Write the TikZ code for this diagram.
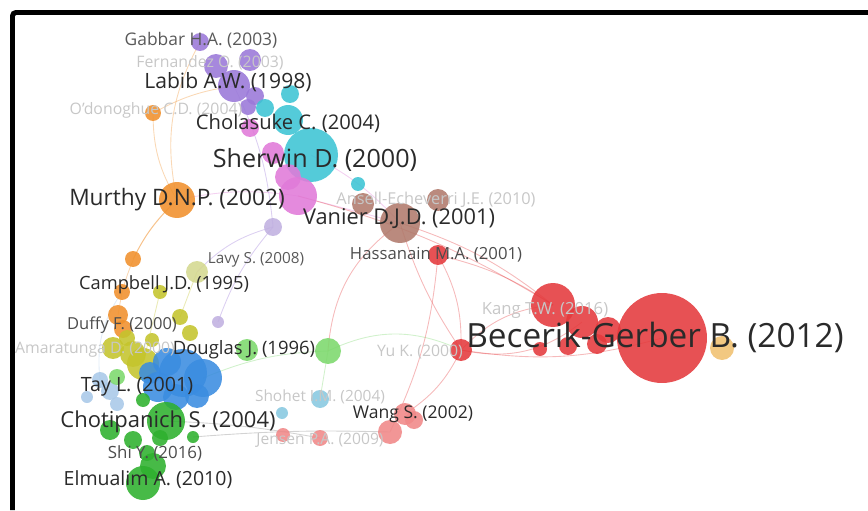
\documentclass[tikz,border=0pt]{standalone}
\usepackage{fontspec}
\setmainfont{Open Sans}
\usetikzlibrary{backgrounds}

\definecolor{purp}{HTML}{9A78D8}
\definecolor{lav}{HTML}{C0B0E0}
\definecolor{cyn}{HTML}{3CC4D4}
\definecolor{pnk}{HTML}{E07AD8}
\definecolor{org}{HTML}{F0902C}
\definecolor{brn}{HTML}{B07A6C}
\definecolor{rd}{HTML}{E4393C}
\definecolor{gld}{HTML}{F0C070}
\definecolor{lgrn}{HTML}{7CD86C}
\definecolor{olv}{HTML}{C4C42C}
\definecolor{lyel}{HTML}{D4D890}
\definecolor{blu}{HTML}{3A8CE0}
\definecolor{lblu}{HTML}{A8C8E8}
\definecolor{grn}{HTML}{2EB02E}
\definecolor{sky}{HTML}{88C8E0}
\definecolor{slm}{HTML}{F08888}
\definecolor{lbltxt}{HTML}{2A2A2A}

\begin{document}
\begin{tikzpicture}[x=0.02cm,y=-0.02cm,
  bub/.style={circle,inner sep=0pt,minimum size=#1*0.04cm,fill opacity=0.88},
  lbl/.style={inner sep=0pt,text=lbltxt,font=\fontsize{#1}{#1}\selectfont},
  faint/.style={text=black!22},
  edge/.style={line width=0.5pt,draw opacity=0.35}]
\useasboundingbox (0,0) rectangle (868,510);

% Frame
\draw[line width=2.84pt,rounded corners=2pt] (12.5,510) -- (12.5,12.5) -- (868,12.5);

% Purple cluster
\node[bub=9,fill=purp] (gabbar) at (200,42) {};
\node[bub=12,fill=purp] (fern) at (216,66) {};
\node[bub=11,fill=purp] (purpb) at (250,60) {};
\node[bub=16,fill=purp] (labib) at (234,86) {};
\node[bub=9,fill=purp] (purpc) at (255,96) {};
\node[bub=8,fill=purp] (purpd) at (248,107) {};
\node[bub=9,fill=lav] (zhu) at (273,227) {};
\node[bub=6,fill=lav] (lavb) at (218,322) {};

% Cyan cluster
\node[bub=9,fill=cyn] (cyna) at (290,94) {};
\node[bub=9,fill=cyn] (cynb) at (265,108) {};
\node[bub=15,fill=cyn] (cholas) at (288,120) {};
\node[bub=27,fill=cyn] (sherwin) at (311,155) {};
\node[bub=7,fill=cyn] (cync) at (358,184) {};

% Pink cluster
\node[bub=9,fill=pnk] (pnka) at (250,128) {};
\node[bub=11,fill=pnk] (pnkb) at (273,153) {};
\node[bub=13,fill=pnk] (pnkc) at (288,177) {};
\node[bub=19,fill=pnk] (pnkbig) at (298,196) {};

% Orange cluster
\node[bub=8,fill=org] (odon) at (153,113) {};
\node[bub=18,fill=org] (murthy) at (177,200) {};
\node[bub=8,fill=org] (orga) at (133,259) {};
\node[bub=8,fill=org] (campb) at (122,292) {};
\node[bub=10,fill=org] (duffy) at (118,315) {};
\node[bub=9,fill=org] (orgb) at (123,329) {};

% Brown cluster
\node[bub=11,fill=brn] (brna) at (363,204) {};
\node[bub=11,fill=brn] (arditi) at (438,200) {};
\node[bub=20,fill=brn] (vanier) at (400,223) {};

% Red cluster
\node[bub=10,fill=rd] (hassan) at (438,255) {};
\node[bub=22,fill=rd] (kang) at (553,305) {};
\node[bub=16,fill=rd] (rda) at (582,322) {};
\node[bub=13,fill=rd] (rde) at (608,330) {};
\node[bub=10,fill=rd] (rdb) at (597,344) {};
\node[bub=9,fill=rd] (rdc) at (568,346) {};
\node[bub=7,fill=rd] (rdd) at (540,349) {};
\node[bub=45,fill=rd] (becerik) at (662,338) {};
\node[bub=11,fill=rd] (yu) at (461,350) {};
\node[bub=12,fill=gld] (gold) at (722,348) {};

% Yellow-green cluster
\node[bub=11,fill=lyel] (lavy) at (197,272) {};
\node[bub=7,fill=olv] (olva) at (160,292) {};
\node[bub=8,fill=olv] (olvb) at (180,317) {};
\node[bub=8,fill=olv] (olvc) at (190,333) {};
\node[bub=7,fill=olv] (olvd) at (152,340) {};
\node[bub=8,fill=olv] (olvg) at (127,338) {};
\node[bub=11,fill=olv] (amar) at (113,348) {};
\node[bub=13,fill=olv] (olve) at (133,354) {};
\node[bub=16,fill=olv] (olvf) at (143,364) {};

% Blue cluster
\node[bub=14,fill=blu] (blua) at (167,362) {};
\node[bub=11,fill=blu] (bluf) at (150,373) {};
\node[bub=24,fill=blu] (blub) at (183,373) {};
\node[bub=19,fill=blu] (bluc) at (203,378) {};
\node[bub=15,fill=blu] (blud) at (158,387) {};
\node[bub=13,fill=blu] (blue) at (176,397) {};
\node[bub=12,fill=blu] (blug) at (197,396) {};
\node[bub=8,fill=lblu] (lblua) at (100,380) {};
\node[bub=9,fill=lblu] (tay) at (110,391) {};
\node[bub=7,fill=lblu] (lblub) at (117,404) {};
\node[bub=6,fill=lblu] (lbluc) at (87,397) {};

% Green cluster
\node[bub=11,fill=lgrn] (lgrna) at (247,350) {};
\node[bub=13,fill=lgrn] (douglas) at (328,351) {};
\node[bub=8,fill=lgrn] (lgrnb) at (117,377) {};
\node[bub=7,fill=grn] (grna) at (143,400) {};
\node[bub=19,fill=grn] (choti) at (166,421) {};
\node[bub=10,fill=grn] (grnb) at (110,430) {};
\node[bub=9,fill=grn] (grnc) at (133,440) {};
\node[bub=8,fill=grn] (grnd) at (160,438) {};
\node[bub=6,fill=grn] (grne) at (193,437) {};
\node[bub=8,fill=grn] (shi) at (147,453) {};
\node[bub=13,fill=grn] (grnf) at (153,466) {};
\node[bub=17,fill=grn] (elmu) at (143,483) {};

% Light blue and salmon
\node[bub=9,fill=sky] (shohet) at (320,399) {};
\node[bub=6,fill=sky] (skya) at (282,413) {};
\node[bub=7,fill=slm] (jensa) at (283,435) {};
\node[bub=8,fill=slm] (jensen) at (320,438) {};
\node[bub=12,fill=slm] (slma) at (390,432) {};
\node[bub=11,fill=slm] (wang) at (405,414) {};
\node[bub=9,fill=slm] (slmb) at (414,420) {};

% Links
\begin{scope}[on background layer]
\draw[edge,org] (odon.center) to[bend right=15] (murthy.center);
\draw[edge,org] (odon.center) to[bend left=10] (labib.center);
\draw[edge,org] (murthy.center) to[bend right=15] (campb.center);
\draw[edge,org] (orga.center) to[bend left=10] (murthy.center);
\draw[edge,org] (campb.center) -- (duffy.center);
\draw[edge,org] (murthy.center) to[bend left=20] (gabbar.center);
\draw[edge,pnk] (sherwin.center) to[bend left=10] (vanier.center);
\draw[edge,pnk] (pnkbig.center) -- (vanier.center);
\draw[edge,pnk] (pnkbig.center) to[bend right=10] (murthy.center);
\draw[edge,rd] (vanier.center) to[bend left=10] (kang.center);
\draw[edge,rd] (pnkbig.center) to[bend left=8] (kang.center);
\draw[edge,rd] (hassan.center) to[bend left=10] (kang.center);
\draw[edge,rd] (hassan.center) to[bend left=15] (yu.center);
\draw[edge,rd] (vanier.center) to[bend right=8] (yu.center);
\draw[edge,rd] (vanier.center) to[bend right=25] (douglas.center);
\draw[edge,lgrn] (douglas.center) to[bend left=25] (yu.center);
\draw[edge,lgrn] (douglas.center) -- (shohet.center);
\draw[edge,lgrn] (douglas.center) to[bend right=10] (bluc.center);
\draw[edge,rd] (yu.center) to[bend left=15] (wang.center);
\draw[edge,rd] (yu.center) to[bend right=12] (becerik.center);
\draw[edge,rd] (yu.center) to[bend left=20] (kang.center);
\draw[edge,rd] (yu.center) to[bend right=25] (rda.center);
\draw[edge,rd] (hassan.center) to[bend left=10] (slma.center);
\draw[edge,gray] (choti.center) to[bend left=4] (jensen.center);
\draw[edge,gray] (grne.center) to[bend left=3] (slma.center);
\draw[edge,purp] (zhu.center) to[bend right=10] (lavb.center);
\draw[edge,purp] (zhu.center) to[bend right=15] (lavy.center);
\draw[edge,purp] (labib.center) to[bend left=10] (zhu.center);
\draw[edge,olv] (lavy.center) -- (olvb.center);
\draw[edge,olv] (olva.center) -- (olvf.center);
\draw[edge,lblu] (lblua.center) to[bend left=20] (campb.center);
\end{scope}

% Labels
\node[lbl=9.9,text=black!65] (l-gabbar) at (201,40) {Gabbar H.A. (2003)};
\node[lbl=9,faint] (l-fern) at (210,63) {Fernandez O. (2003)};
\node[lbl=12] (l-labib) at (228,82) {Labib A.W. (1998)};
\node[lbl=9,faint] (l-odon) at (156,110) {O'donoghue C.D. (2004)};
\node[lbl=11.5] (l-cholas) at (288,123) {Cholasuke C. (2004)};
\node[lbl=14.3] (l-sherwin) at (315,160) {Sherwin D. (2000)};
\node[lbl=12.9] (l-murthy) at (177,200) {Murthy D.N.P. (2002)};
\node[lbl=9.3,faint] (l-arditi) at (436,200) {Ansell-Echeverri J.E. (2010)};
\node[lbl=12.4] (l-vanier) at (399,219) {Vanier D.J.D. (2001)};
\node[lbl=8.7,text=black!65] (l-lavy) at (256,260) {Lavy S. (2008)};
\node[lbl=9.5,text=black!70] (l-hassan) at (436,255) {Hassanain M.A. (2001)};
\node[lbl=10.4] (l-campb) at (164,285) {Campbell J.D. (1995)};
\node[lbl=9.5,faint] (l-kang) at (545,310) {Kang T.W. (2016)};
\node[lbl=9.4,text=black!70] (l-duffy) at (122,325) {Duffy F. (2000)};
\node[lbl=9,faint] (l-amar) at (95,350) {Amaratunga D. (2000)};
\node[lbl=10.5] (l-douglas) at (244,350) {Douglas J. (1996)};
\node[lbl=19] (l-becerik) at (655,337) {Becerik-Gerber B. (2012)};
\node[lbl=9,faint] (l-yu) at (420,352) {Yu K. (2000)};
\node[lbl=11.2] (l-tay) at (137,387) {Tay L. (2001)};
\node[lbl=8.8,faint] (l-shohet) at (320,397) {Shohet I.M. (2004)};
\node[lbl=12.5] (l-choti) at (168,422) {Chotipanich S. (2004)};
\node[lbl=10] (l-wang) at (413,414) {Wang S. (2002)};
\node[lbl=8.9,faint] (l-jensen) at (320,440) {Jensen P.A. (2009)};
\node[lbl=9.6,text=black!70] (l-shi) at (155,453) {Shi Y. (2016)};
\node[lbl=11.1] (l-elmu) at (148,480) {Elmualim A. (2010)};
\end{tikzpicture}
\end{document}
